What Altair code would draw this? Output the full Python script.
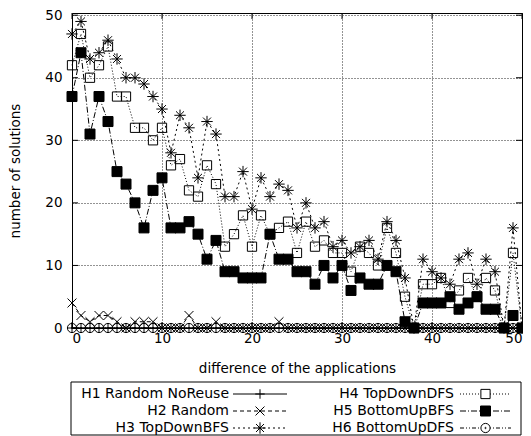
import altair as alt
import pandas as pd

# ---------------- data ----------------
x_vals = list(range(51))
series_names = ["H1 Random NoReuse", "H2 Random", "H3 TopDownBFS",
                "H4 TopDownDFS", "H5 BottomUpBFS", "H6 BottomUpDFS"]

h1 = [0, 0, 0, 0, 0, 0, 0, 0, 0, 0, 0, 0, 0, 0, 0, 0, 0, 0, 0, 0, 0, 0, 0, 0, 0, 0,
      0, 0, 0, 0, 0, 0, 0, 0, 0, 0, 0, 0, 0, 0, 0, 0, 0, 0, 0, 0, 0, 0, 0, 0, 0]
h2 = [4, 2, 1, 2, 2, 1, 0, 1, 1, 1, 0, 0, 0, 2, 0, 0, 1, 0, 0, 0, 0, 0, 0, 1, 0, 0,
      0, 0, 0, 0, 0, 0, 0, 0, 0, 0, 0, 0, 0, 0, 0, 0, 0, 0, 0, 0, 0, 0, 0, 0, 0]
h3 = [47, 49, 43, 44, 46, 43, 40, 40, 39, 37, 35, 28, 34, 32, 24, 33, 31, 21, 21, 25,
      19, 24, 21, 23, 22, 16, 20, 16, 17, 13, 14, 12, 13, 14, 11, 17, 14, 8, 0, 11,
      9, 8, 7, 11, 12, 7, 11, 9, 0, 16, 0]
h4 = [42, 47, 40, 42, 45, 37, 37, 32, 32, 30, 32, 26, 27, 22, 21, 26, 23, 13, 15, 18,
      13, 18, 15, 16, 17, 12, 17, 13, 14, 12, 12, 9, 13, 12, 10, 16, 12, 5, 0, 7,
      7, 8, 4, 6, 8, 5, 8, 6, 0, 12, 0]
h5 = [37, 44, 31, 37, 33, 25, 23, 20, 16, 22, 24, 16, 16, 17, 15, 11, 14, 9, 9, 8,
      8, 8, 15, 11, 11, 9, 9, 7, 10, 8, 10, 6, 8, 7, 7, 10, 9, 1, 0, 4,
      4, 4, 5, 3, 4, 5, 3, 3, 0, 2, 0]
h6 = [0, 0, 0, 0, 0, 0, 0, 0, 0, 0, 0, 0, 0, 0, 0, 0, 0, 0, 0, 0, 0, 0, 0, 0, 0, 0,
      0, 0, 0, 0, 0, 0, 0, 0, 0, 0, 0, 0, 0, 0, 0, 0, 0, 0, 0, 0, 0, 0, 0, 0, 0]

x_ticks = [0, 10, 20, 30, 40, 50]
y_ticks = [0, 10, 20, 30, 40, 50]

all_series = [h1, h2, h3, h4, h5, h6]
rows = []
for name, vals in zip(series_names, all_series):
    for xv, yv in zip(x_vals, vals):
        rows.append({"series": name, "x": xv, "y": yv})
df = pd.DataFrame(rows)

# ---------------- styles ----------------
FONT = "DejaVu Sans"
FS = 13.5
W, H = 450, 315
PAD_TOP = 5
dashes = [[1, 0], [4, 3], [2, 3], [1, 2], [6, 2, 1, 2], [4, 2, 1, 2, 1, 2]]
shapes = [
    "M-1,0L1,0M0,-1L0,1",
    "M-1,-1L1,1M-1,1L1,-1",
    "M-1,0L1,0M0,-1L0,1M-0.7,-0.7L0.7,0.7M-0.7,0.7L0.7,-0.7",
    "M-1,-1L1,-1L1,1L-1,1Z",
    "M-1,-1L1,-1L1,1L-1,1Z",
    "M1,0A1,1,0,1,1,-1,0A1,1,0,1,1,1,0ZM0.14,0A0.14,0.14,0,1,1,-0.14,0A0.14,0.14,0,1,1,0.14,0Z",
]
sizes = [90, 80, 130, 85, 100, 85]
filled = [False, False, False, False, True, False]

xscale = alt.Scale(domain=[0, 50], nice=False, zero=False)
yscale = alt.Scale(domain=[0, 50.35], nice=False, zero=False)

xaxis = alt.Axis(values=x_ticks, title="difference of the applications",
                 grid=True, gridDash=[1, 2], gridColor="#000", gridOpacity=0.85,
                 ticks=False, tickSize=0, domain=False, labelPadding=3,
                 labelFont=FONT, labelFontSize=FS, labelColor="#000",
                 titleFont=FONT, titleFontSize=FS, titleFontWeight="normal",
                 titleColor="#000", titleY=44, titleBaseline="alphabetic")
yaxis = alt.Axis(values=y_ticks, title="number of solutions",
                 grid=True, gridDash=[1, 2], gridColor="#000", gridOpacity=0.85,
                 ticks=False, tickSize=0, domain=False, labelPadding=10,
                 labelFont=FONT, labelFontSize=FS, labelColor="#000",
                 titleFont=FONT, titleFontSize=FS, titleFontWeight="normal",
                 titleColor="#000", titleX=-57, titleY=H / 2,
                 titleAlign="center", titleBaseline="middle", titleAngle=270)

base = alt.Chart(df)
layers = []
# grid/axes carrier layer
layers.append(base.mark_point(opacity=0).encode(
    x=alt.X("x:Q", scale=xscale, axis=xaxis),
    y=alt.Y("y:Q", scale=yscale, axis=yaxis)))

# inward ticks (gnuplot style) on all four sides
tx = pd.DataFrame({"t": x_ticks})
ty = pd.DataFrame({"t": y_ticks})
layers.append(alt.Chart(tx).mark_rule(color="black", strokeWidth=1).encode(
    x=alt.X("t:Q", scale=xscale), y=alt.value(0), y2=alt.value(6)))
layers.append(alt.Chart(tx).mark_rule(color="black", strokeWidth=1).encode(
    x=alt.X("t:Q", scale=xscale), y=alt.value(H - 6), y2=alt.value(H)))
layers.append(alt.Chart(ty).mark_rule(color="black", strokeWidth=1).encode(
    y=alt.Y("t:Q", scale=yscale), x=alt.value(0), x2=alt.value(6)))
layers.append(alt.Chart(ty).mark_rule(color="black", strokeWidth=1).encode(
    y=alt.Y("t:Q", scale=yscale), x=alt.value(W - 6), x2=alt.value(W)))

for i, name in enumerate(series_names):
    sub = base.transform_filter(alt.datum.series == name)
    layers.append(sub.mark_line(color="black", strokeWidth=1, strokeDash=dashes[i],
                                clip=False).encode(
        x=alt.X("x:Q", scale=xscale), y=alt.Y("y:Q", scale=yscale)))
    pt_kwargs = dict(shape=shapes[i], size=sizes[i], stroke="black",
                     strokeWidth=1, opacity=1, clip=False)
    if filled[i]:
        pt_kwargs.update(filled=True, fill="black")
    else:
        pt_kwargs.update(filled=False)
    layers.append(sub.mark_point(**pt_kwargs).encode(
        x=alt.X("x:Q", scale=xscale), y=alt.Y("y:Q", scale=yscale)))

# ---------------- legend (drawn below the plot, gnuplot style) ----------------
OFF = -PAD_TOP
LG_TOP, LG_BOT = 374 + OFF, 427 + OFF
row_y = [386 + OFF, 403 + OFF, 420 + OFF]
col_text_right = [157, 382]
col_sample = [(161, 215), (388, 439)]
layers.append(alt.Chart(pd.DataFrame({"a": [0]})).mark_rect(
    fill="white", fillOpacity=0, stroke="black", strokeWidth=1).encode(
    x=alt.value(-1), x2=alt.value(W - 1), y=alt.value(LG_TOP), y2=alt.value(LG_BOT)))
for i, name in enumerate(series_names):
    c, r = divmod(i, 3)
    ldf = pd.DataFrame({"label": [name]})
    yy = row_y[r]
    layers.append(alt.Chart(ldf).mark_text(
        align="right", baseline="middle", font=FONT, fontSize=14, color="black").encode(
        text="label:N", x=alt.value(col_text_right[c]), y=alt.value(yy)))
    x0, x1 = col_sample[c]
    layers.append(alt.Chart(ldf).mark_rule(color="black", strokeWidth=1,
                                           strokeDash=dashes[i]).encode(
        x=alt.value(x0), x2=alt.value(x1), y=alt.value(yy)))
    pt_kwargs = dict(shape=shapes[i], size=sizes[i], stroke="black",
                     strokeWidth=1, opacity=1)
    if filled[i]:
        pt_kwargs.update(filled=True, fill="black")
    else:
        pt_kwargs.update(filled=True, fill="white")
    layers.append(alt.Chart(ldf).mark_point(**pt_kwargs).encode(
        x=alt.value((x0 + x1) / 2), y=alt.value(yy)))

chart = alt.layer(*layers).properties(
    width=W, height=H,
    autosize=alt.AutoSizeParams(type="none"),
    padding={"left": 64, "top": PAD_TOP, "right": 1, "bottom": 108},
    background="white",
).configure_view(stroke="black", strokeWidth=1)

chart.save("out.html", embed_options={"renderer": "svg", "actions": False})
